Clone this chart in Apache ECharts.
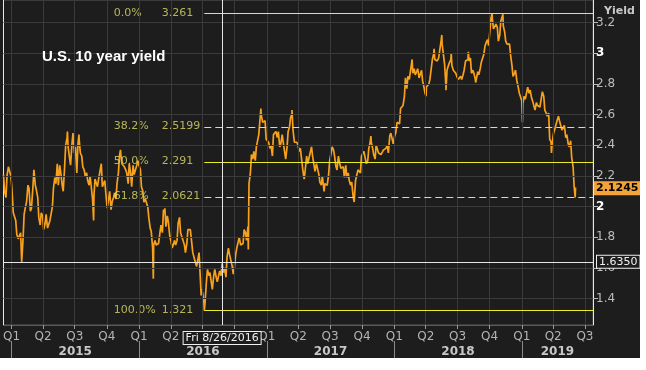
<!DOCTYPE html>
<html><head><meta charset="utf-8">
<script src="https://cdn.jsdelivr.net/npm/echarts@6/dist/echarts.min.js"></script>
<style>html,body{margin:0;padding:0;background:#fff;} #c{width:640px;height:358px;}</style>
</head><body><div id="c"></div>
<script>
// ---- data: weekly Friday values (first Friday 2014-12-12) ----
const firstFriday = '2014-12-12';
const fri2014 = [2.10, 2.20, 2.26];
const fri2015 = [2.12, 1.95, 1.82, 1.80, 1.64,  1.95, 2.03, 2.12, 1.99,  2.24, 2.11, 1.93, 1.96,
  1.85, 1.95, 1.86, 1.92,  2.12, 2.15, 2.14, 2.22, 2.10,  2.40, 2.39, 2.27, 2.48,
  2.39, 2.40, 2.35, 2.26, 2.20,  2.17, 2.20, 2.05, 2.18,  2.13, 2.19, 2.13, 2.17,
  1.99, 2.10, 2.03, 2.09, 2.15,  2.33, 2.28, 2.26, 2.22,  2.28, 2.13, 2.21, 2.25];
const fri2016 = [2.27, 2.13, 2.03, 2.05, 1.93,  1.84, 1.75, 1.75, 1.76,  1.88, 1.98, 1.87, 1.90,
  1.78, 1.72, 1.75, 1.89, 1.83,  1.78, 1.70, 1.85, 1.85,  1.70, 1.64, 1.61, 1.56,
  1.44, 1.37, 1.59, 1.57, 1.46,  1.59, 1.51, 1.58, 1.63,  1.60, 1.67, 1.69, 1.62, 1.60,
  1.73, 1.80, 1.74, 1.85,  1.78, 2.15, 2.34, 2.36,  2.39, 2.47, 2.60, 2.55, 2.44];
const fri2017 = [2.42, 2.40, 2.47, 2.49,  2.49, 2.41, 2.42, 2.31,  2.49, 2.58, 2.50, 2.41, 2.40,
  2.38, 2.24, 2.24, 2.28,  2.35, 2.33, 2.23, 2.25,  2.16, 2.20, 2.15, 2.14, 2.30,
  2.39, 2.33, 2.24, 2.29,  2.26, 2.19, 2.19, 2.17,  2.16, 2.03, 2.20, 2.25, 2.33,
  2.36, 2.28, 2.38, 2.42,  2.34, 2.40, 2.35, 2.34,  2.37, 2.38, 2.35, 2.48, 2.41];
const fri2018 = [2.48, 2.55, 2.64, 2.66,  2.84, 2.85, 2.88, 2.87,  2.86, 2.90, 2.85, 2.82, 2.74,
  2.77, 2.83, 2.96, 2.96,  2.95, 2.97, 3.06, 2.93,  2.89, 2.94, 2.92, 2.89, 2.85,
  2.82, 2.83, 2.89, 2.95,  2.95, 2.87, 2.87, 2.82, 2.86,  2.94, 2.99, 3.07, 3.05,
  3.23, 3.16, 3.19, 3.08,  3.21, 3.18, 3.08, 3.05, 2.99,  2.85, 2.89, 2.79, 2.72];
const fri2019 = [2.67, 2.70, 2.78, 2.76,  2.69, 2.63, 2.66, 2.65,  2.75, 2.63, 2.59, 2.44, 2.41,
  2.50, 2.56, 2.56, 2.50,  2.53, 2.47, 2.39, 2.32, 2.13];
// ---- midweek (Tuesday) values, Tuesday of the same weeks ----
const tue2014 = [2.21, 2.06, 2.26];
const tue2015 = [2.20, 1.96, 1.91, 1.79, 1.83,  1.79, 2.00, 2.14, 1.97,  2.12, 2.14, 2.06, 1.88,
  1.94, 1.89, 1.86, 1.91,  2.00, 2.19, 2.28, 2.27, 2.14,  2.26, 2.45, 2.32, 2.41,
  2.35, 2.22, 2.43, 2.33, 2.24,  2.22, 2.14, 2.19, 2.07,  2.17, 2.19, 2.28, 2.13,
  2.06, 2.05, 1.98, 2.06, 2.05,  2.22, 2.34, 2.27, 2.24,  2.15, 2.22, 2.27, 2.24];
const tue2016 = [2.30, 2.24, 2.10, 2.05, 2.00,  1.86, 1.73, 1.78, 1.74,  1.83, 1.83, 1.96, 1.94,
  1.81, 1.73, 1.78, 1.78, 1.93,  1.80, 1.75, 1.76, 1.86,  1.84, 1.71, 1.61, 1.70,
  1.46, 1.37, 1.51, 1.55, 1.56,  1.55, 1.54, 1.55, 1.55,  1.57, 1.54, 1.73, 1.69, 1.56,
  1.69, 1.77, 1.75, 1.76,  1.83, 1.87, 2.22, 2.31,  2.30, 2.39, 2.48, 2.55, 2.56];
const tue2017 = [2.45, 2.38, 2.33, 2.47,  2.45, 2.39, 2.47, 2.43,  2.39, 2.52, 2.61, 2.42, 2.42,
  2.36, 2.30, 2.18, 2.33,  2.29, 2.39, 2.33, 2.28,  2.21, 2.14, 2.21, 2.16, 2.21,
  2.35, 2.37, 2.26, 2.33,  2.25, 2.26, 2.27, 2.22,  2.14, 2.07, 2.17, 2.24, 2.22,
  2.33, 2.35, 2.30, 2.42,  2.38, 2.31, 2.40, 2.36,  2.33, 2.36, 2.40, 2.46, 2.47];
const tue2018 = [2.46, 2.55, 2.54, 2.63,  2.72, 2.77, 2.83, 2.89,  2.90, 2.88, 2.84, 2.89, 2.78,
  2.78, 2.80, 2.82, 3.00,  2.97, 2.97, 3.08, 3.06,  2.78, 2.92, 2.96, 2.89, 2.87,
  2.83, 2.85, 2.86, 2.95,  2.96, 2.97, 2.89, 2.83, 2.88,  2.90, 2.97, 3.05, 3.09,
  3.05, 3.22, 3.16, 3.17,  3.12, 3.20, 3.14, 3.06, 3.06,  2.92, 2.87, 2.82, 2.74];
const tue2019 = [2.69, 2.72, 2.71, 2.74,  2.71, 2.70, 2.68, 2.65,  2.64, 2.72, 2.61, 2.61, 2.42,
  2.48, 2.50, 2.59, 2.57,  2.50, 2.45, 2.41, 2.43, 2.26];
// ---- intraday extremes / extra days ----
const spikeDates = ['2015-06-10','2015-07-13','2015-08-24','2015-11-09','2016-02-11','2016-03-15',
  '2016-06-27','2016-07-06','2016-11-09','2016-12-15','2017-03-14','2017-04-18','2017-06-14',
  '2017-10-26','2018-02-21','2018-04-02','2018-04-25','2018-05-17','2018-05-29','2018-06-13',
  '2018-08-01','2018-08-22','2018-09-25','2018-10-08','2018-11-08','2019-01-03','2019-01-18',
  '2019-03-27','2019-04-17','2019-06-03','2019-06-04'];
const spikeYields = [2.49, 2.47, 1.91, 2.37, 1.53, 1.99, 1.42, 1.321, 1.72, 2.64, 2.63, 2.17, 2.10,
  2.46, 2.96, 2.72, 3.03, 3.12, 2.76, 3.00, 3.01, 2.81, 3.10, 3.261, 3.255, 2.55, 2.79,
  2.35, 2.60, 2.06, 2.1245];

const fibPct = ['0.0%', '38.2%', '50.0%', '61.8%', '100.0%'];
const fibVal = [3.261, 2.5199, 2.291, 2.0621, 1.321];
const fibDashed = [false, true, false, true, false];
const fibStart = '2016-07-06';

const yTicks = [1.4, 1.6, 1.8, 2, 2.2, 2.4, 2.6, 2.8, 3, 3.2];
const years = [2015, 2016, 2017, 2018, 2019];
const xMin = '2014-12-09', xMax = '2019-07-24';
const yMin = 1.228, yMax = 3.348;
const crossDate = '2016-08-26', crossDateLabel = 'Fri 8/26/2016', crossValue = 1.635;
const lastValue = spikeYields[spikeYields.length - 1];

// ---- build ----
const T = s => { const [y, m, d] = s.split('-').map(Number); return new Date(y, m - 1, d).getTime(); };
const [fy, fm, fd] = firstFriday.split('-').map(Number);
const fri = [].concat(fri2014, fri2015, fri2016, fri2017, fri2018, fri2019);
const tue = [].concat(tue2014, tue2015, tue2016, tue2017, tue2018, tue2019);
const pts = [];
fri.forEach((v, i) => pts.push([new Date(fy, fm - 1, fd + 7 * i).getTime(), v]));
tue.forEach((v, i) => pts.push([new Date(fy, fm - 1, fd - 3 + 7 * i).getTime(), v]));
spikeDates.forEach((s, i) => pts.push([T(s), spikeYields[i]]));
pts.sort((a, b) => a[0] - b[0]);

const xMaxT = T(xMax), xMinT = T(xMin);
const quarterTs = [];
years.forEach(y => { for (let q = 0; q < 4; q++) { const t = new Date(y, q * 3, 1).getTime(); if (t <= xMaxT) quarterTs.push(t); } });
const yearStart = years.map(y => new Date(y, 0, 1).getTime());
const yearMid = years.map((y, i) => (yearStart[i] + Math.min(new Date(y + 1, 0, 1).getTime(), xMaxT)) / 2);

const FONT = 'DejaVu Sans';
const FIB_TEXT = '#dcdc66';
const FIB_LINE = '#ecec28';

const chart = echarts.init(document.getElementById('c'));
chart.setOption({
  backgroundColor: '#1d1d1d',
  animation: false,
  textStyle: { fontFamily: FONT },
  title: [
    { text: 'U.S. 10 year yield', left: 37, top: 44,
      textStyle: { color: '#ffffff', fontSize: 15, fontWeight: 'bold', fontFamily: 'Liberation Sans' } },
    { text: 'Yield', left: 599, top: 1,
      textStyle: { color: '#c8c8c8', fontSize: 11, fontWeight: 'bold', fontFamily: FONT } }
  ],
  grid: { left: 1, right: 47, top: 0, bottom: 33, show: true, borderColor: '#5a5a5a', borderWidth: 1 },
  xAxis: [
    { type: 'value', min: xMinT, max: xMaxT, position: 'bottom',
      axisLine: { show: true, lineStyle: { color: '#5a5a5a' } },
      axisTick: { show: true, customValues: quarterTs, length: 4, lineStyle: { color: '#9a9a9a' } },
      axisLabel: { customValues: quarterTs, color: '#b4b4b4', fontSize: 12, margin: 6,
        formatter: v => 'Q' + (Math.floor(new Date(v).getMonth() / 3) + 1) },
      splitLine: { show: false } },
    { type: 'value', min: xMinT, max: xMaxT, position: 'bottom', offset: 16,
      axisLine: { show: false },
      axisTick: { show: true, customValues: yearStart, length: 17, lineStyle: { color: '#8a8a8a' } },
      axisLabel: { customValues: yearMid, color: '#c8c8c8', fontSize: 12, fontWeight: 'bold', margin: 5,
        formatter: v => String(new Date(v).getFullYear()) },
      splitLine: { show: false } }
  ],
  yAxis: [
    { type: 'value', position: 'right', min: yMin, max: yMax,
      axisLine: { show: true, lineStyle: { color: '#e8e8e8' } },
      axisTick: { show: true, customValues: yTicks, length: 5, lineStyle: { color: '#bdbdbd' } },
      axisLabel: { customValues: yTicks, color: '#bdbdbd', fontSize: 12, margin: 3,
        formatter: v => Number.isInteger(v) ? '{b|' + v + '}' : String(v),
        rich: { b: { color: '#ffffff', fontWeight: 'bold', fontSize: 12 } } },
      splitLine: { show: false } },
    { type: 'value', position: 'left', min: yMin, max: yMax,
      axisLine: { show: true, lineStyle: { color: '#e8e8e8' } },
      axisTick: { show: false }, axisLabel: { show: false }, splitLine: { show: false } }
  ],
  series: [
    { name: 'grid', type: 'line', data: [], z: 1, silent: true,
      markLine: { silent: true, symbol: ['none', 'none'], animation: false, label: { show: false },
        lineStyle: { color: '#3a3a3a', width: 1, type: 'solid' },
        data: quarterTs.map(t => ({ xAxis: t })).concat(yTicks.map(v => ({ yAxis: v }))) } },
    { name: 'US10Y', type: 'line', data: pts, showSymbol: false, z: 3,
      lineStyle: { color: '#f7a11c', width: 1.7 }, itemStyle: { color: '#f7a11c' } },
    { name: 'fib', type: 'line', data: [], z: 4, silent: true,
      markLine: { silent: true, symbol: ['none', 'none'], animation: false, label: { show: false },
        lineStyle: { color: FIB_LINE, width: 1, type: 'solid', opacity: 1 },
        data: fibVal.map((v, i) => [
          { coord: [T(fibStart), v],
            lineStyle: { color: FIB_LINE, width: 1, type: fibDashed[i] ? [7, 4] : 'solid' } },
          { coord: [xMaxT, v] }
        ]) } },
    { name: 'fibLabels', type: 'scatter', z: 4, silent: true,
      data: fibVal.map(v => [T(fibStart), v]),
      symbolSize: 1, itemStyle: { color: 'rgba(0,0,0,0)' },
      label: { show: true, position: [-90, 0], align: 'left', verticalAlign: 'middle',
        color: FIB_TEXT, fontSize: 11,
        formatter: p => '{p|' + fibPct[p.dataIndex] + '}{v|' + fibVal[p.dataIndex] + '}',
        rich: { p: { width: 48, align: 'left', color: FIB_TEXT, fontSize: 11 },
                v: { align: 'left', color: FIB_TEXT, fontSize: 11 } } } },
    { name: 'cross', type: 'line', data: [], z: 5, silent: true,
      markLine: { silent: true, symbol: ['none', 'none'], animation: false,
        lineStyle: { color: '#e6e6e6', width: 1, type: 'solid' },
        data: [
          { xAxis: T(crossDate),
            label: { show: true, position: 'start', distance: 7, formatter: crossDateLabel, color: '#f0f0f0',
              fontSize: 11, backgroundColor: '#1d1d1d', borderColor: '#f0f0f0', borderWidth: 1, padding: [1, 2, 0, 2] } },
          { yAxis: crossValue,
            label: { show: true, position: 'end', distance: 4, formatter: crossValue.toFixed(4), color: '#f0f0f0',
              fontSize: 11, backgroundColor: '#1d1d1d', borderColor: '#f0f0f0', borderWidth: 1, padding: [1, 2, 0, 2] } },
          { yAxis: lastValue, lineStyle: { color: 'rgba(0,0,0,0)' },
            label: { show: true, position: 'end', distance: 1, formatter: String(lastValue), color: '#000000',
              fontSize: 11, fontWeight: 'bold', backgroundColor: '#f4a23a', padding: [2, 2, 1, 2] } }
        ] } }
  ]
});
</script></body></html>
